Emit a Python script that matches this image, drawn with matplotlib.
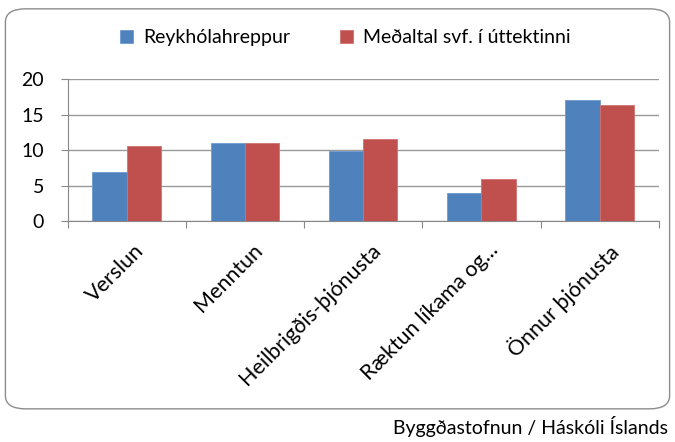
import matplotlib
matplotlib.use('Agg')
import matplotlib.pyplot as plt
import numpy as np
from matplotlib.patches import FancyBboxPatch

categories = ["Verslun", "Menntun", "Heilbrigðis-þjónusta", "Ræktun líkama og...", "Önnur þjónusta"]
reykholahreppur = [6.9, 11.0, 9.8, 3.9, 17.0]
medaltal = [10.6, 11.0, 11.6, 5.9, 16.3]
series_names = ["Reykhólahreppur", "Meðaltal svf. í úttektinni"]
yticks = [0, 5, 10, 15, 20]

plt.rcParams['font.family'] = ['Lato', 'DejaVu Sans']

fig = plt.figure(figsize=(6.75, 4.42), dpi=100)
ax = fig.add_axes([0.100, 0.500, 0.876, 0.321])

# rounded chart frame
frame = FancyBboxPatch((0.008, 0.075), 0.984, 0.905, boxstyle="round,pad=0,rounding_size=0.03",
                       transform=fig.transFigure, facecolor='white', edgecolor='#8c8c8c',
                       linewidth=1.0, zorder=-10)
fig.patches.append(frame)

x = np.arange(len(categories))
w = 0.29
ax.bar(x - w / 2, reykholahreppur, w, color='#4F81BD', edgecolor='#6f9ad0', linewidth=0.6,
       label=series_names[0], zorder=3)
ax.bar(x + w / 2, medaltal, w, color='#C0504D', edgecolor='#d07270', linewidth=0.6,
       label=series_names[1], zorder=3)

ax.set_xlim(-0.5, len(categories) - 0.5)
ax.set_ylim(0, 20)
ax.set_yticks(yticks)
ax.tick_params(axis='y', labelsize=14, length=5, color='#888888', pad=12)
ax.yaxis.grid(True, color='#999999', linewidth=1.0, zorder=0)
ax.set_axisbelow(True)

for s in ['top', 'right']:
    ax.spines[s].set_visible(False)
ax.spines['left'].set_color('#888888')
ax.spines['bottom'].set_color('#888888')

# ticks between categories, labels at centers
ax.set_xticks(np.arange(len(categories) + 1) - 0.5)
ax.set_xticklabels([])
ax.tick_params(axis='x', length=5, color='#888888')
for i, c in enumerate(categories):
    ax.text(i + 0.06, -2.7, c, rotation=45, ha='right', va='top', rotation_mode='anchor',
            fontsize=15.5)

ax.legend(loc='lower center', bbox_to_anchor=(0.47, 1.11), ncol=2, frameon=False,
          fontsize=14, handlelength=0.65, handleheight=0.65, columnspacing=2.6, handletextpad=0.5)

fig.text(0.99, 0.012, "Byggðastofnun / Háskóli Íslands", ha='right', va='bottom', fontsize=14)

fig.savefig("out.png", dpi=100)
